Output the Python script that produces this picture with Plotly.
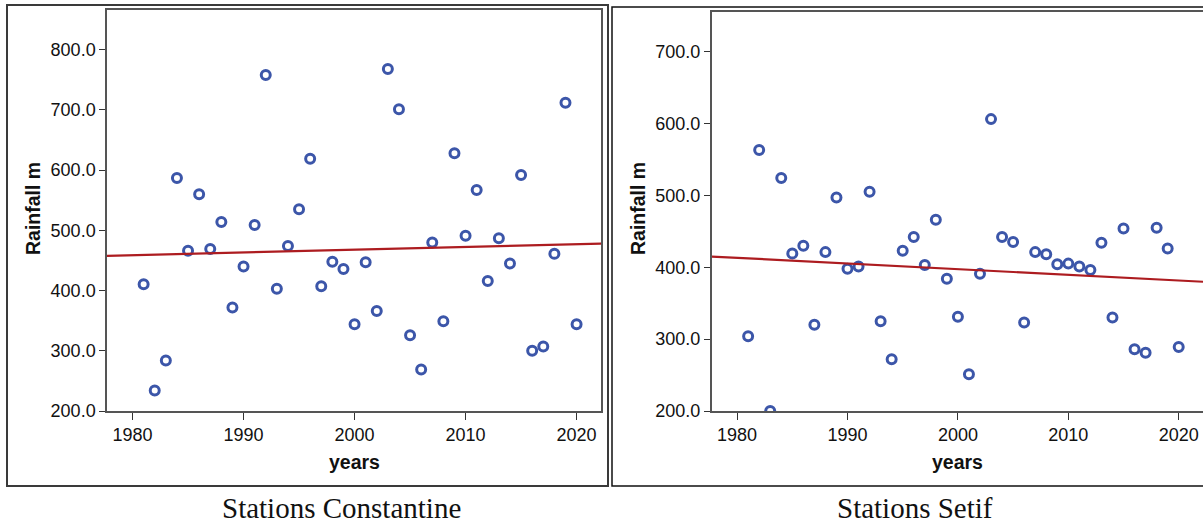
import numpy as np
import plotly.graph_objects as go
from plotly.subplots import make_subplots

# Annual rainfall, 1981-2020
years = list(range(1981, 2021))

constantine = [410.5, 234, 284, 587, 466, 560, 469, 514, 372, 440,
               509, 758, 403, 474, 535, 619, 407, 448, 436, 344,
               447, 366, 768, 701, 326, 269, 480, 349, 628, 491,
               567, 416, 487, 445, 592, 300, 307, 461, 712, 344]

setif = [304, 563, 200, 524, 419, 430, 320, 421, 497, 398,
         401, 505, 325, 272, 423, 442, 403, 466, 384, 331,
         251, 391, 606, 442, 435, 323, 421, 418, 404, 405,
         401, 396, 434, 330, 454, 286, 281, 455, 426, 289]

left_ticks = [200, 300, 400, 500, 600, 700, 800]
right_ticks = [200, 300, 400, 500, 600, 700]
year_ticks = [1980, 1990, 2000, 2010, 2020]

captions = ["Stations Constantine", "Stations Setif"]

W, H = 1203, 524
MARKER = "#3c56a9"
TREND = "#ad1c20"
AXIS = "#555555"
TICK_FONT = dict(family="Liberation Sans, Arial, sans-serif", size=18, color="#111111")
TITLE_FONT = dict(family="Liberation Sans, Arial, sans-serif", size=19.5, color="#111111")
X_RANGE = [1977.7, 2022.2]


def px_x(x):
    return x / W


def px_y(y):
    return 1 - y / H


fig = make_subplots(rows=1, cols=2)

panels = [
    (constantine, left_ticks, [200, 866], 1),
    (setif, right_ticks, [200, 755], 2),
]

for values, yt, yr, col in panels:
    fig.add_trace(go.Scatter(
        x=years, y=values, mode="markers",
        marker=dict(symbol="circle-open", size=9, color=MARKER,
                    line=dict(width=3, color=MARKER)),
        cliponaxis=True, showlegend=False, hoverinfo="x+y",
    ), row=1, col=col)

    # least-squares trend over the full axis span
    slope, intercept = np.polyfit(years, values, 1)
    tx = np.array(X_RANGE)
    fig.add_trace(go.Scatter(
        x=tx, y=slope * tx + intercept, mode="lines",
        line=dict(color=TREND, width=2.2), showlegend=False, hoverinfo="skip",
    ), row=1, col=col)

    fig.update_yaxes(range=yr, tickvals=yt, tickformat=".1f",
                     ticks="outside", ticklen=6, tickwidth=1.2, tickcolor="#333",
                     showline=True, linecolor=AXIS, linewidth=1.5, mirror=True,
                     showgrid=False, zeroline=False, tickfont=TICK_FONT,
                     row=1, col=col)
    fig.update_xaxes(range=X_RANGE, tickvals=year_ticks,
                     ticks="outside", ticklen=7, tickwidth=1.2, tickcolor="#333",
                     showline=True, linecolor=AXIS, linewidth=1.5, mirror=True,
                     showgrid=False, zeroline=False, tickfont=TICK_FONT,
                     row=1, col=col)

# plot-area placement
fig.update_xaxes(domain=[px_x(107), px_x(601)], row=1, col=1)
fig.update_xaxes(domain=[px_x(711.7), 1.0], row=1, col=2)
fig.update_yaxes(domain=[px_y(411), px_y(10)], row=1, col=1)
fig.update_yaxes(domain=[px_y(411), px_y(12)], row=1, col=2)

# panel frames
frames = [(7, 5, 608, 486, "#3a3a3a", 2), (612, 7, 1206, 486, "#111111", 1.5)]
for x0, y0, x1, y1, c, w in frames:
    fig.add_shape(type="rect", xref="paper", yref="paper",
                  x0=px_x(x0), x1=px_x(x1), y0=px_y(y1), y1=px_y(y0),
                  line=dict(color=c, width=w), fillcolor="rgba(0,0,0,0)")

annotations = []
for ylab_x, years_x, cap_x, cap in [(33, 354, 341, captions[0]), (638, 957.5, 915, captions[1])]:
    annotations.append(dict(text="<b>Rainfall m</b>", x=px_x(ylab_x), y=px_y(209),
                            xref="paper", yref="paper", showarrow=False,
                            textangle=-90, font=TITLE_FONT,
                            xanchor="center", yanchor="middle"))
    annotations.append(dict(text="<b>years</b>", x=px_x(years_x), y=px_y(462),
                            xref="paper", yref="paper", showarrow=False,
                            font=TITLE_FONT, xanchor="center", yanchor="middle"))
    annotations.append(dict(text=cap, x=px_x(cap_x), y=px_y(508),
                            xref="paper", yref="paper", showarrow=False,
                            font=dict(family="Liberation Serif, Times New Roman, serif",
                                      size=29, color="#111111"),
                            xanchor="center", yanchor="middle"))

fig.update_layout(
    width=W, height=H,
    margin=dict(l=0, r=0, t=0, b=0, autoexpand=False),
    paper_bgcolor="white", plot_bgcolor="white",
    annotations=annotations,
    showlegend=False,
)

fig.write_html("out.html")
